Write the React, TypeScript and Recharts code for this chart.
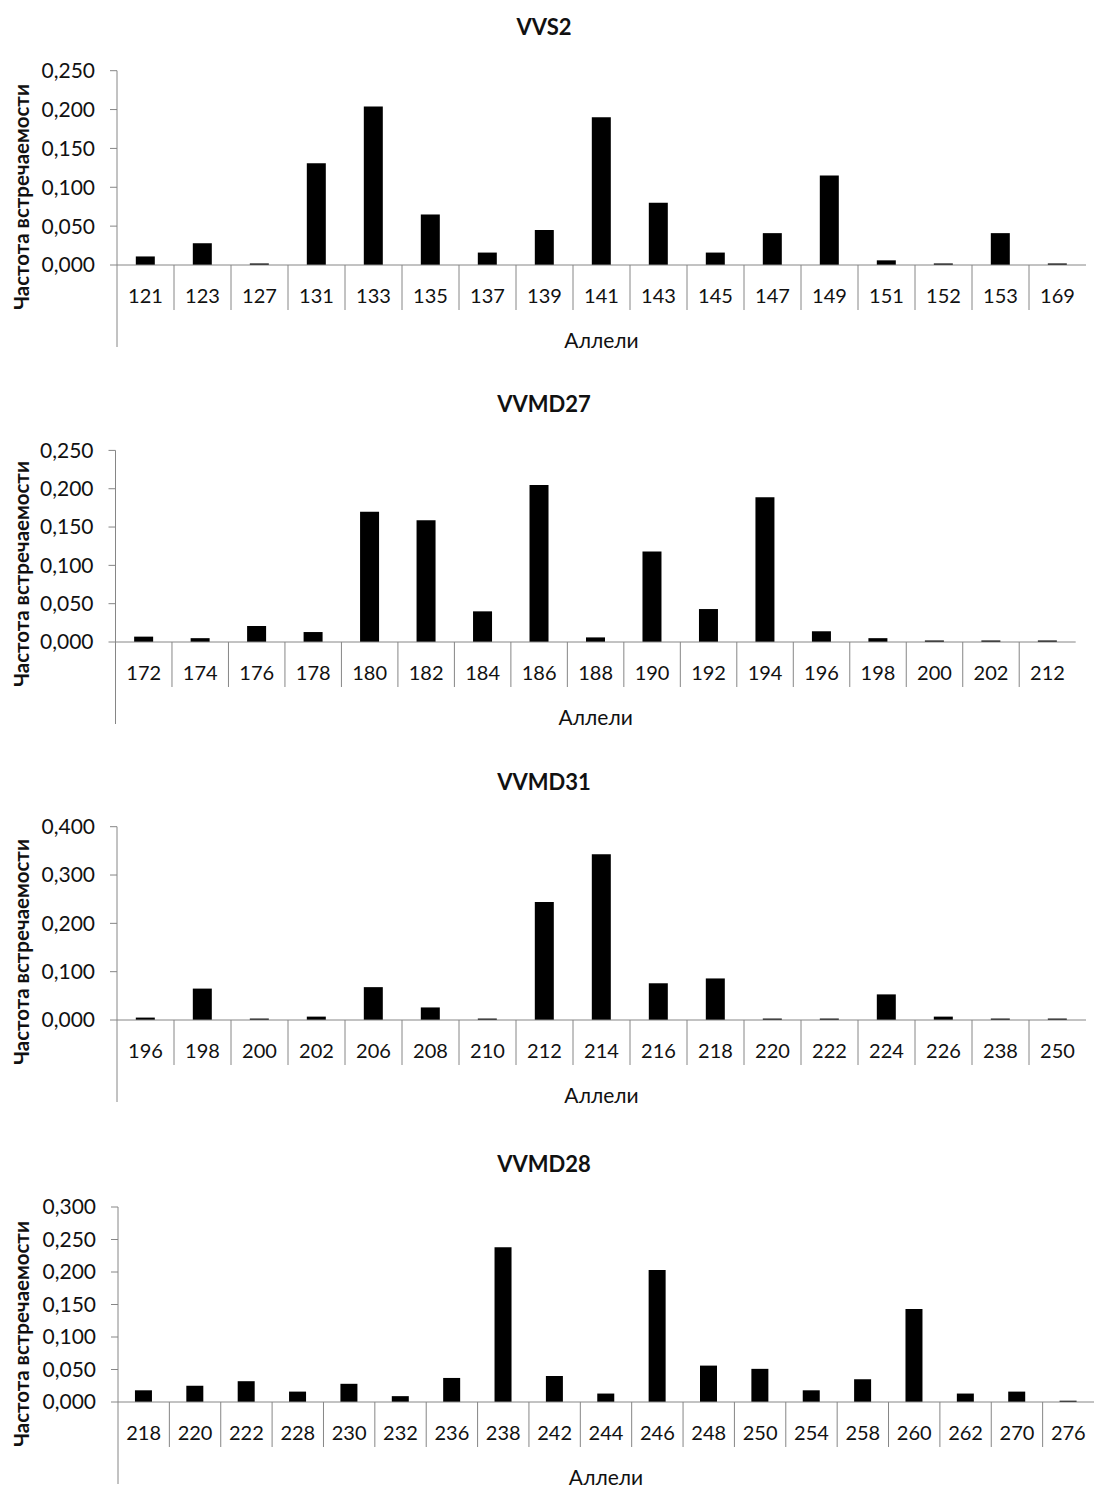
import { Bar, BarChart, XAxis, YAxis } from "recharts";

const FONT = "Lato, 'Open Sans', sans-serif";
const AXIS_GREY = "#868686";
const TEXT = "#111";

// VVS2
const vvs2Alleles = ["121", "123", "127", "131", "133", "135", "137", "139", "141", "143", "145", "147", "149", "151", "152", "153", "169"];
const vvs2Freq = [0.011, 0.028, 0.002, 0.131, 0.204, 0.065, 0.016, 0.045, 0.19, 0.08, 0.016, 0.041, 0.115, 0.006, 0.002, 0.041, 0.002];

// VVMD27
const vvmd27Alleles = ["172", "174", "176", "178", "180", "182", "184", "186", "188", "190", "192", "194", "196", "198", "200", "202", "212"];
const vvmd27Freq = [0.007, 0.005, 0.021, 0.013, 0.17, 0.159, 0.04, 0.205, 0.006, 0.118, 0.043, 0.189, 0.014, 0.005, 0.002, 0.002, 0.002];

// VVMD31
const vvmd31Alleles = ["196", "198", "200", "202", "206", "208", "210", "212", "214", "216", "218", "220", "222", "224", "226", "238", "250"];
const vvmd31Freq = [0.005, 0.065, 0.003, 0.007, 0.068, 0.026, 0.003, 0.244, 0.343, 0.076, 0.086, 0.003, 0.003, 0.053, 0.007, 0.003, 0.003];

// VVMD28
const vvmd28Alleles = ["218", "220", "222", "228", "230", "232", "236", "238", "242", "244", "246", "248", "250", "254", "258", "260", "262", "270", "276"];
const vvmd28Freq = [0.018, 0.025, 0.032, 0.016, 0.028, 0.009, 0.037, 0.238, 0.04, 0.013, 0.203, 0.056, 0.051, 0.018, 0.035, 0.143, 0.013, 0.016, 0.002];

const ticks025 = [0, 0.05, 0.1, 0.15, 0.2, 0.25];
const ticks04 = [0, 0.1, 0.2, 0.3, 0.4];
const ticks03 = [0, 0.05, 0.1, 0.15, 0.2, 0.25, 0.3];

const yTitle = "Частота встречаемости";
const xTitle = "Аллели";

type Panel = {
  title: string;
  alleles: string[];
  freq: number[];
  ticks: number[];
  baseline: number;
  plotTop: number;
  plotLeft: number;
  plotRight: number;
};

const panels: Panel[] = [
  { title: "VVS2", alleles: vvs2Alleles, freq: vvs2Freq, ticks: ticks025, baseline: 265, plotTop: 70.7, plotLeft: 117, plotRight: 1086 },
  { title: "VVMD27", alleles: vvmd27Alleles, freq: vvmd27Freq, ticks: ticks025, baseline: 642.3, plotTop: 450.7, plotLeft: 115.5, plotRight: 1075.7 },
  { title: "VVMD31", alleles: vvmd31Alleles, freq: vvmd31Freq, ticks: ticks04, baseline: 1020, plotTop: 826.7, plotLeft: 117, plotRight: 1086 },
  { title: "VVMD28", alleles: vvmd28Alleles, freq: vvmd28Freq, ticks: ticks03, baseline: 1401.7, plotTop: 1206.7, plotLeft: 118, plotRight: 1094 },
];

const fmt = (v: number) => v.toFixed(3).replace(".", ",");

function CategoryTick(props: any) {
  const { x, y, payload, index, band } = props;
  const left = x - band / 2;
  return (
    <g>
      <line x1={left} x2={left} y1={y} y2={y + (index === 0 ? 82 : 45)} stroke={AXIS_GREY} />
      <text x={x} y={y + 30} textAnchor="middle" dominantBaseline="central" fontSize={20} fill={TEXT} fontFamily={FONT}>
        {payload.value}
      </text>
    </g>
  );
}

function AlleleChart({ panel }: { panel: Panel }) {
  const svgTop = panel.baseline - 250;
  const data = panel.alleles.map((a, i) => ({ allele: a, freq: panel.freq[i] }));
  const band = (panel.plotRight - panel.plotLeft) / panel.alleles.length;
  const yMax = panel.ticks[panel.ticks.length - 1];

  return (
    <>
      <div
        style={{
          position: "absolute",
          top: panel.baseline - 251,
          left: 0,
          width: 1096,
          textAlign: "center",
          fontWeight: 700,
          fontSize: 22,
          lineHeight: "26px",
          color: TEXT,
          marginLeft: -4,
        }}
      >
        {panel.title}
      </div>
      <div
        style={{
          position: "absolute",
          top: panel.baseline - 68 - 13,
          left: 21 - 150,
          width: 300,
          textAlign: "center",
          fontWeight: 700,
          fontSize: 20.5,
          lineHeight: "26px",
          color: TEXT,
          transform: "rotate(-90deg)",
        }}
      >
        {yTitle}
      </div>
      <div
        style={{
          position: "absolute",
          top: panel.baseline + 75 - 13,
          left: (panel.plotLeft + panel.plotRight) / 2 - 100,
          width: 200,
          textAlign: "center",
          fontSize: 21,
          lineHeight: "26px",
          color: TEXT,
        }}
      >
        {xTitle}
      </div>
      <div style={{ position: "absolute", top: svgTop, left: 0 }}>
        <BarChart
          width={1096}
          height={340}
          data={data}
          barCategoryGap="33%"
          margin={{ top: panel.plotTop - svgTop, right: 1096 - panel.plotRight, bottom: 0, left: 0 }}
        >
          <XAxis
            dataKey="allele"
            height={90}
            axisLine={{ stroke: AXIS_GREY }}
            tickLine={false}
            tickSize={0}
            tickMargin={0}
            interval={0}
            tick={<CategoryTick band={band} />}
          />
          <YAxis
            width={panel.plotLeft}
            domain={[0, yMax]}
            ticks={panel.ticks}
            tickFormatter={fmt}
            axisLine={{ stroke: AXIS_GREY }}
            tickLine={{ stroke: AXIS_GREY }}
            tickSize={7}
            tickMargin={15}
            tick={{ fontSize: 21, fill: TEXT, fontFamily: FONT }}
          />
          <Bar dataKey="freq" fill="#000" isAnimationActive={false} />
        </BarChart>
      </div>
    </>
  );
}

export default function App() {
  return (
    <div
      style={{
        position: "absolute",
        top: 0,
        left: 0,
        width: 1096,
        height: 1486,
        background: "#fff",
        fontFamily: FONT,
      }}
    >
      {panels.map((p) => (
        <AlleleChart key={p.title} panel={p} />
      ))}
    </div>
  );
}
